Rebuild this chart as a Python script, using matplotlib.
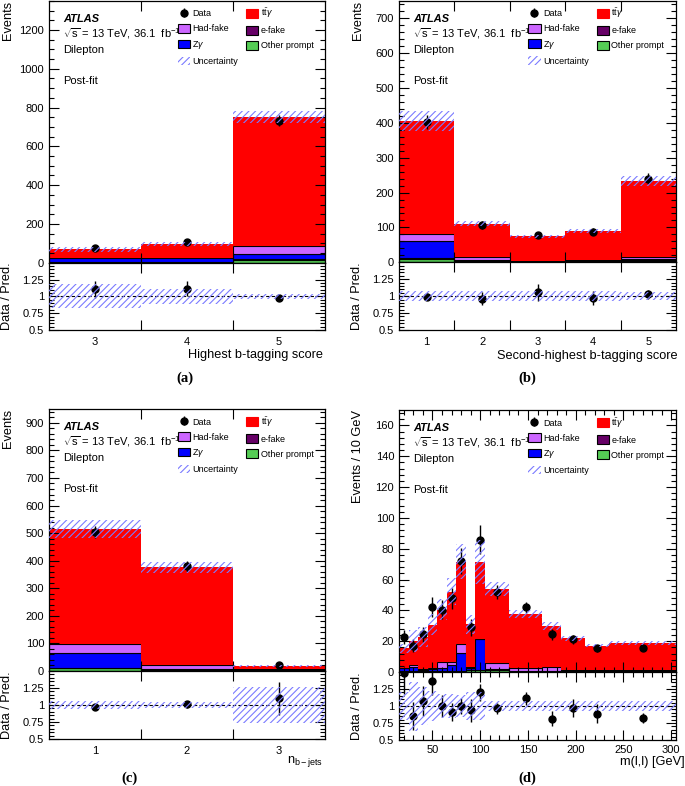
import numpy as np
import matplotlib
matplotlib.use('Agg')
import matplotlib.pyplot as plt
from matplotlib.patches import Patch
from matplotlib.ticker import MultipleLocator, NullFormatter

plt.rcParams['font.family'] = ['Liberation Sans', 'DejaVu Sans']
plt.rcParams['mathtext.fontset'] = 'custom'
plt.rcParams['mathtext.rm'] = 'Liberation Sans'
plt.rcParams['mathtext.it'] = 'Liberation Sans:italic'
plt.rcParams['mathtext.bf'] = 'Liberation Sans:bold'
plt.rcParams['hatch.linewidth'] = 0.8

C_TTG = '#ff0000'
C_HAD = '#cc66ff'
C_EFAKE = '#660066'
C_ZG = '#0000ff'
C_OTHER = '#55cc55'
C_HATCH = '#7b7bff'

# (a) highest b-tagging score
a_edges = [2.5, 3.5, 4.5, 5.5]
a_labels = ['3', '4', '5']
a_other = [3, 3, 14]
a_efake = [1, 1, 4]
a_zg = [19, 18, 25]
a_had = [3, 4, 42]
a_ttg = [43, 71, 667]
a_data = [76, 108, 733]
a_unc = [0.18, 0.115, 0.04]

# (b) second-highest b-tagging score
b_edges = [0.5, 1.5, 2.5, 3.5, 4.5, 5.5]
b_labels = ['1', '2', '3', '4', '5']
b_other = [10, 3, 1, 1, 5]
b_efake = [1, 1, 0.5, 0.5, 1]
b_zg = [50, 2, 1, 1, 2]
b_had = [21, 10, 2, 5, 6]
b_ttg = [323, 95, 69.5, 82.5, 219]
b_data = [401, 107, 78, 88, 240]
b_unc = [0.07, 0.07, 0.07, 0.07, 0.06]

# (c) number of b-jets
c_edges = [0.5, 1.5, 2.5, 3.5]
c_labels = ['1', '2', '3']
c_other = [10, 4, 1]
c_efake = [1, 1, 0.5]
c_zg = [53, 3, 0.5]
c_had = [33, 13, 4]
c_ttg = [418, 355, 12.2]
c_data = [503, 380, 20]
c_unc = [0.06, 0.05, 0.265]

# (d) m(l,l), events per 10 GeV
d_edges = [15, 25, 35, 45, 55, 65, 75, 85, 95, 105, 130, 165, 185, 210, 235, 305]
d_other = [0.3, 0.3, 0.3, 0.3, 0.3, 0.4, 0.5, 1.0, 1.5, 1.0, 0.5, 0.4, 0.3, 0.2, 0.2]
d_efake = [0.1, 0.1, 0.1, 0.1, 0.1, 0.1, 0.1, 0.1, 0.1, 0.1, 0.1, 0.1, 0.1, 0.1, 0.1]
d_zg = [2.0, 2.9, 0.9, 1.6, 2.0, 3.8, 11.6, 1.3, 19.6, 0.6, 0.3, 0.3, 0.3, 0.2, 0.1]
d_had = [0.2, 1.5, 0.4, 0.8, 4.3, 2.4, 5.8, 0.9, 0.0, 4.0, 1.9, 2.5, 0.8, 1.0, 0.6]
d_ttg = [12.8, 15.2, 21.1, 27.9, 33.7, 45.5, 53.6, 27.7, 50.4, 48.2, 35.0, 26.6, 20.3, 15.7, 17.8]
d_data = [22.8, 17.0, 24.5, 42.0, 40.5, 47.8, 72.0, 29.0, 86.0, 52.0, 42.0, 24.4, 21.2, 15.3, 15.5]
d_unc = [0.2, 0.36, 0.28, 0.22, 0.17, 0.17, 0.16, 0.2, 0.2, 0.08, 0.07, 0.08, 0.07, 0.07, 0.07]


def style(ax, labelsize=8):
    ax.tick_params(which='both', direction='in', top=True, right=True, labelsize=labelsize)
    ax.tick_params(which='major', length=7, width=0.8)
    ax.tick_params(which='minor', length=3.5, width=0.8)
    for s in ax.spines.values():
        s.set_linewidth(0.9)


def draw(ax, rax, edges, other, efake, zg, had, ttg, data, unc, per10=False):
    edges = np.asarray(edges, float)
    left = edges[:-1]
    width = np.diff(edges)
    centers = left + width / 2
    data = np.asarray(data, float)
    unc = np.asarray(unc, float)
    bottom = np.zeros(len(left))
    for vals, col in [(other, C_OTHER), (efake, C_EFAKE), (zg, C_ZG), (had, C_HAD)]:
        vals = np.asarray(vals, float)
        ax.bar(left, vals, width, bottom=bottom, align='edge', color=col,
               edgecolor='black', linewidth=0.8)
        bottom = bottom + vals
    vals = np.asarray(ttg, float)
    ax.bar(left, vals, width, bottom=bottom, align='edge', color=C_TTG, linewidth=0)
    total = bottom + vals

    if per10:
        counts = data * width / 10
        err = np.sqrt(counts) * 10 / width
    else:
        err = np.sqrt(data)

    h = ax.errorbar(centers, data, yerr=err, fmt='o', color='black', ms=5,
                    elinewidth=1, capsize=0, zorder=3)
    ax.bar(left, 2 * unc * total, width, bottom=total * (1 - unc), align='edge',
           facecolor='none', edgecolor=C_HATCH, hatch='/////', linewidth=0, zorder=4)

    rax.errorbar(centers, data / total, yerr=err / total, fmt='o', color='black',
                 ms=5, elinewidth=1, capsize=0, zorder=3)
    rax.bar(left, 2 * unc, width, bottom=1 - unc, align='edge', facecolor='none',
            edgecolor=C_HATCH, hatch='/////', linewidth=0, zorder=4)
    rax.axhline(1, color='black', ls=(0, (3, 2)), lw=0.8, zorder=2)

    ax.set_xlim(edges[0], edges[-1])
    rax.set_xlim(edges[0], edges[-1])
    rax.set_ylim(0.5, 1.5)
    rax.set_yticks([0.5, 0.75, 1, 1.25])
    rax.set_yticklabels(['0.5', '0.75', '1', '1.25'])
    rax.yaxis.set_minor_locator(MultipleLocator(0.05))
    style(ax)
    style(rax)
    ax.tick_params(labelbottom=False)
    return h


def cat_ticks(ax, rax, edges, labels):
    inner = edges[1:-1]
    centers = [(edges[i] + edges[i + 1]) / 2 for i in range(len(edges) - 1)]
    for a in (ax, rax):
        a.set_xticks(inner)
        a.xaxis.set_major_formatter(NullFormatter())
    rax.set_xticks(centers, labels, minor=True)
    rax.tick_params(axis='x', which='minor', length=0, pad=5)
    ax.tick_params(axis='x', which='minor', length=0)


def decorate(ax, rax, h, ylabel):
    ax.text(0.05, 0.931, 'ATLAS', transform=ax.transAxes, fontsize=8,
            fontweight='bold', fontstyle='italic', va='center')
    ax.text(0.05, 0.875, r'$\sqrt{\mathrm{s}}$ = 13 TeV, 36.1  fb$^{-1}$',
            transform=ax.transAxes, fontsize=8, va='center')
    ax.text(0.05, 0.813, 'Dilepton', transform=ax.transAxes, fontsize=8, va='center')
    ax.text(0.05, 0.695, 'Post-fit', transform=ax.transAxes, fontsize=8, va='center')
    handles = [h,
               Patch(facecolor=C_HAD, edgecolor='black', lw=0.8),
               Patch(facecolor=C_ZG, edgecolor='black', lw=0.8),
               Patch(facecolor='none', edgecolor=C_HATCH, hatch='/////', lw=0),
               Patch(facecolor=C_TTG, edgecolor=C_TTG, lw=0.8),
               Patch(facecolor=C_EFAKE, edgecolor='black', lw=0.8),
               Patch(facecolor=C_OTHER, edgecolor='black', lw=0.8)]
    labels = ['Data', 'Had-fake', r'Z$\gamma$', 'Uncertainty',
              r'$\mathrm{t\bar{t}}\gamma$', 'e-fake', 'Other prompt']
    ax.legend(handles, labels, ncol=2, loc='upper left', bbox_to_anchor=(0.467, 0.978),
              frameon=False, fontsize=6.5, handlelength=1.35, handleheight=1.1,
              labelspacing=0.62, columnspacing=0.9, handletextpad=0.25,
              borderaxespad=0, borderpad=0)
    ax.set_ylabel(ylabel, loc='top', fontsize=9.2)
    ax.yaxis.set_label_coords(-0.125, 1.0)
    rax.set_ylabel('Data / Pred.', loc='top', fontsize=9.2)
    rax.yaxis.set_label_coords(-0.13, 1.0)


fig = plt.figure(figsize=(6.85, 7.86), dpi=100)

# (a)
ax = fig.add_axes([0.0715, 0.6658, 0.403, 0.333])
rax = fig.add_axes([0.0715, 0.5802, 0.403, 0.0856])
h = draw(ax, rax, a_edges, a_other, a_efake, a_zg, a_had, a_ttg, a_data, a_unc)
cat_ticks(ax, rax, a_edges, a_labels)
ax.set_ylim(0, 1350)
ax.yaxis.set_major_locator(MultipleLocator(200))
ax.yaxis.set_minor_locator(MultipleLocator(50))
decorate(ax, rax, h, 'Events')
rax.set_xlabel('Highest b-tagging score', fontsize=9.2, ha='right', va='top')
rax.xaxis.set_label_coords(0.993, -0.29)

# (b)
ax = fig.add_axes([0.5825, 0.6663, 0.4044, 0.3327])
rax = fig.add_axes([0.5825, 0.5802, 0.4044, 0.0861])
h = draw(ax, rax, b_edges, b_other, b_efake, b_zg, b_had, b_ttg, b_data, b_unc)
cat_ticks(ax, rax, b_edges, b_labels)
ax.set_ylim(0, 750)
ax.yaxis.set_major_locator(MultipleLocator(100))
ax.yaxis.set_minor_locator(MultipleLocator(20))
decorate(ax, rax, h, 'Events')
rax.set_xlabel('Second-highest b-tagging score', fontsize=9.2, ha='right', va='top')
rax.xaxis.set_label_coords(1.005, -0.30)

# (c)
ax = fig.add_axes([0.0715, 0.1463, 0.403, 0.3333])
rax = fig.add_axes([0.0715, 0.0598, 0.403, 0.0865])
h = draw(ax, rax, c_edges, c_other, c_efake, c_zg, c_had, c_ttg, c_data, c_unc)
cat_ticks(ax, rax, c_edges, c_labels)
ax.set_ylim(0, 950)
ax.yaxis.set_major_locator(MultipleLocator(100))
ax.yaxis.set_minor_locator(MultipleLocator(20))
decorate(ax, rax, h, 'Events')
rax.set_xlabel(r'n$_{\mathrm{b-jets}}$', fontsize=9.2, ha='right', va='top')
rax.xaxis.set_label_coords(0.993, -0.22)

# (d)
ax = fig.add_axes([0.5825, 0.145, 0.4044, 0.3333])
rax = fig.add_axes([0.5825, 0.0585, 0.4044, 0.0865])
h = draw(ax, rax, d_edges, d_other, d_efake, d_zg, d_had, d_ttg, d_data, d_unc, per10=True)
for a in (ax, rax):
    a.xaxis.set_major_locator(MultipleLocator(50))
    a.xaxis.set_minor_locator(MultipleLocator(10))
ax.set_ylim(0, 170)
ax.yaxis.set_major_locator(MultipleLocator(20))
ax.yaxis.set_minor_locator(MultipleLocator(4))
decorate(ax, rax, h, 'Events / 10 GeV')
rax.set_xlabel('m(l,l) [GeV]', fontsize=9.2, ha='right', va='top')
rax.xaxis.set_label_coords(1.03, -0.24)

for x, y, s in [(185, 378, '(a)'), (527, 378, '(b)'), (130, 778, '(c)'), (527, 778, '(d)')]:
    fig.text(x / 685, 1 - y / 786, s, ha='center', va='center', fontsize=10.5,
             fontweight='bold', family=['Liberation Serif', 'DejaVu Serif'])

fig.savefig('out.png', dpi=100)
